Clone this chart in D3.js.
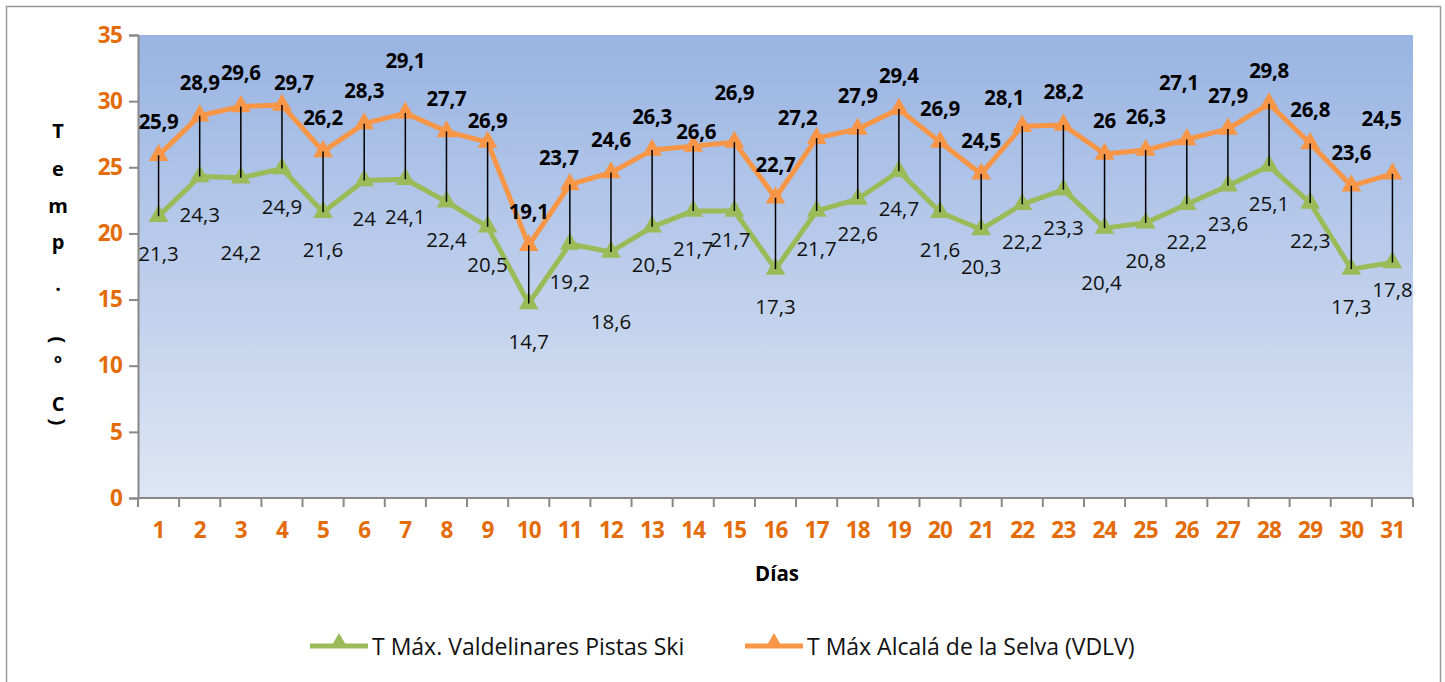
<!DOCTYPE html>
<html>
<head>
<meta charset="utf-8">
<script src="https://cdn.jsdelivr.net/npm/d3@7"></script>
<style>
  html, body { margin: 0; padding: 0; background: #fff; }
  svg { display: block; font-family: "Open Sans", sans-serif; }
</style>
</head>
<body>
<svg id="chart" width="1445" height="682"></svg>
<script>
// dias del mes
var days = d3.range(1, 32);
// T max Valdelinares Pistas Ski
var valdelinares = [21.3, 24.3, 24.2, 24.9, 21.6, 24, 24.1, 22.4, 20.5, 14.7, 19.2, 18.6, 20.5, 21.7, 21.7,
  17.3, 21.7, 22.6, 24.7, 21.6, 20.3, 22.2, 23.3, 20.4, 20.8, 22.2, 23.6, 25.1, 22.3, 17.3, 17.8];
// T max Alcala de la Selva (VDLV)
var alcala = [25.9, 28.9, 29.6, 29.7, 26.2, 28.3, 29.1, 27.7, 26.9, 19.1, 23.7, 24.6, 26.3, 26.6, 26.9,
  22.7, 27.2, 27.9, 29.4, 26.9, 24.5, 28.1, 28.2, 26, 26.3, 27.1, 27.9, 29.8, 26.8, 23.6, 24.5];
var yTicks = [0, 5, 10, 15, 20, 25, 30, 35];
var seriesNames = ["T Máx. Valdelinares Pistas Ski", "T Máx Alcalá de la Selva (VDLV)"];

// ajustes a mano de las etiquetas (px) - como en la hoja original
var alcalaNudge = {4: [12, 11], 7: [0, -19], 9: [0, 12], 11: [-11, 7], 14: [3, 19], 15: [0, -16],
  17: [-19, 13], 22: [-18, 5], 26: [-8, -24], 31: [-11, -22]};
var valdeNudge = {3: [0, 37], 12: [0, 32], 15: [-4, -9], 18: [0, -3], 24: [-3, 17], 31: [0, -11]};

var green = "#9BBB59", orange = "#F79646", axisOrange = "#E36C09";

var svg = d3.select("#chart");
var m = {left: 138, right: 1413, top: 35, bottom: 498};

// borde exterior
svg.append("rect").attr("x", 6.5).attr("y", 6.5).attr("width", 1434).attr("height", 680)
  .attr("fill", "#fff").attr("stroke", "#999").attr("stroke-width", 1.5);

var defs = svg.append("defs");
var grad = defs.append("linearGradient").attr("id", "bg").attr("x1", 0).attr("y1", 0).attr("x2", 0).attr("y2", 1);
grad.append("stop").attr("offset", "0%").attr("stop-color", "#99B4E2");
grad.append("stop").attr("offset", "100%").attr("stop-color", "#DEE6F4");

var x = d3.scaleBand().domain(days).range([m.left, m.right]);
var y = d3.scaleLinear().domain([0, 35]).range([m.bottom, m.top]);
var cx = function (d) { return x(d) + x.bandwidth() / 2; };

svg.append("rect").attr("x", m.left).attr("y", m.top)
  .attr("width", m.right - m.left).attr("height", m.bottom - m.top).attr("fill", "url(#bg)");

// ejes
var yAxis = svg.append("g").attr("transform", "translate(" + m.left + ",0)")
  .call(d3.axisLeft(y).tickValues(yTicks).tickSize(9).tickPadding(7));
var xAxis = svg.append("g").attr("transform", "translate(0," + m.bottom + ")")
  .call(d3.axisBottom(x).tickSize(0).tickPadding(24));
// marcas entre categorias
xAxis.selectAll("line.sep").data(d3.range(0, 32)).enter().append("line")
  .attr("class", "sep")
  .attr("x1", function (i) { return m.left + i * x.step(); })
  .attr("x2", function (i) { return m.left + i * x.step(); })
  .attr("y1", 0).attr("y2", 9);
[yAxis, xAxis].forEach(function (g) {
  g.select(".domain").attr("stroke", "#888").attr("stroke-width", 2);
  g.selectAll("line").attr("stroke", "#888").attr("stroke-width", 2);
  g.selectAll("text").attr("fill", axisOrange).attr("font-size", 22.5).attr("font-weight", "bold")
    .attr("font-family", "'Open Sans', sans-serif").attr("letter-spacing", -0.8);
});
xAxis.select(".domain").attr("d", "M" + m.left + ",0H" + m.right);

svg.append("text").attr("x", 777).attr("y", 581).attr("text-anchor", "middle")
  .attr("font-size", 20.5).attr("font-weight", "bold").text("Días");

// titulo eje Y, apilado
var yTitle = ["T", "e", "m", "p", ".", "(", "º", "C", ")"];
var yTitleY = [130, 168, 205, 241, 283, 340, 362, 403, 422];
yTitle.forEach(function (c, i) {
  var t = svg.append("text").attr("x", 58).attr("y", yTitleY[i]).attr("text-anchor", "middle")
    .attr("dominant-baseline", "central").attr("font-size", 20).attr("font-weight", "bold").text(c);
  if (c === "(" || c === ")") t.attr("transform", "rotate(90,58," + yTitleY[i] + ")");
});

// lineas
var line = function (vals) {
  return d3.line().x(function (d, i) { return cx(days[i]); }).y(function (d) { return y(d); })(vals);
};
svg.append("path").attr("d", line(valdelinares)).attr("fill", "none").attr("stroke", green)
  .attr("stroke-width", 5).attr("stroke-linejoin", "round");
svg.append("path").attr("d", line(alcala)).attr("fill", "none").attr("stroke", orange)
  .attr("stroke-width", 5).attr("stroke-linejoin", "round");

var tri = d3.symbol().type(d3.symbolTriangle).size(170);
function markers(vals, color) {
  svg.append("g").selectAll("path").data(vals).enter().append("path")
    .attr("d", tri)
    .attr("transform", function (d, i) { return "translate(" + cx(days[i]) + "," + y(d) + ")"; })
    .attr("fill", color);
}
markers(valdelinares, green);
markers(alcala, orange);

// lineas de maximo-minimo
svg.append("g").selectAll("line").data(days).enter().append("line")
  .attr("x1", function (d) { return cx(d); }).attr("x2", function (d) { return cx(d); })
  .attr("y1", function (d, i) { return y(alcala[i]); })
  .attr("y2", function (d, i) { return y(valdelinares[i]); })
  .attr("stroke", "#000").attr("stroke-width", 1.5);

var fmt = function (v) { return String(v).replace(".", ","); };

// etiquetas
svg.append("g").selectAll("text").data(alcala).enter().append("text")
  .attr("x", function (d, i) { var n = alcalaNudge[i + 1]; return cx(days[i]) + (n ? n[0] : 0); })
  .attr("y", function (d, i) { var n = alcalaNudge[i + 1]; return y(d) - 34 + (n ? n[1] : 0); })
  .attr("text-anchor", "middle").attr("dominant-baseline", "central")
  .attr("font-size", 20.5).attr("font-weight", "bold").attr("letter-spacing", -0.3)
  .text(fmt);
svg.append("g").selectAll("text").data(valdelinares).enter().append("text")
  .attr("x", function (d, i) { var n = valdeNudge[i + 1]; return cx(days[i]) + (n ? n[0] : 0); })
  .attr("y", function (d, i) { var n = valdeNudge[i + 1]; return y(d) + 37 + (n ? n[1] : 0); })
  .attr("text-anchor", "middle").attr("dominant-baseline", "central")
  .attr("font-size", 20.5).attr("fill", "#111")
  .text(fmt);

// leyenda
var legend = [{x: 310, color: green, name: seriesNames[0]}, {x: 745, color: orange, name: seriesNames[1]}];
legend.forEach(function (l) {
  svg.append("line").attr("x1", l.x).attr("x2", l.x + 58).attr("y1", 646).attr("y2", 646)
    .attr("stroke", l.color).attr("stroke-width", 5);
  svg.append("path").attr("d", d3.symbol().type(d3.symbolTriangle).size(130))
    .attr("transform", "translate(" + (l.x + 29) + ",643)").attr("fill", l.color);
  svg.append("text").attr("x", l.x + 62).attr("y", 646).attr("dominant-baseline", "central")
    .attr("font-size", 23).attr("fill", "#111").text(l.name);
});
</script>
</body>
</html>
